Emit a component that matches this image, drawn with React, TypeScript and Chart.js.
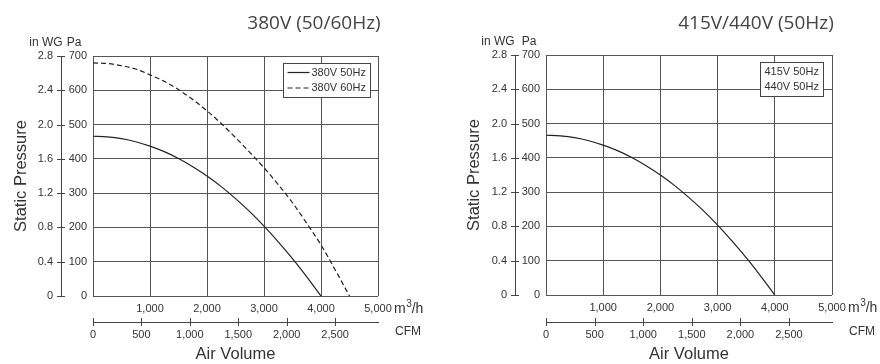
import React, { useEffect, useRef } from "react";
import { Chart, registerables } from "chart.js";
Chart.register(...registerables);

// ---------- data ----------
const leftTitle = "380V (50/60Hz)";
const rightTitle = "415V/440V (50Hz)";

const flowTicks = [0, 1000, 2000, 3000, 4000, 5000]; // m3/h
const paTicks = [0, 100, 200, 300, 400, 500, 600, 700]; // Pa
const inwgTicks = [0, 0.4, 0.8, 1.2, 1.6, 2.0, 2.4, 2.8]; // in WG
const cfmTicks = [0, 500, 1000, 1500, 2000, 2500]; // CFM

const flow50 = [0, 250, 500, 750, 1000, 1250, 1500, 1750, 2000, 2250, 2500, 2750, 3000, 3250, 3500, 3750, 4000];
const pa50 = [466, 464, 459, 450, 437, 421, 401, 377, 350, 319, 284, 246, 204, 158, 109, 56, 0];

const flow60 = [0, 250, 500, 750, 1000, 1250, 1500, 1750, 2000, 2250, 2500, 2750, 3000, 3250, 3500, 3750, 4000, 4250, 4500];
const pa60 = [680, 678, 672, 662, 645, 626, 602, 573, 540, 503, 462, 419, 374, 325, 272, 212, 149, 76, 0];

const flowR = [0, 250, 500, 750, 1000, 1250, 1500, 1750, 2000, 2250, 2500, 2750, 3000, 3250, 3500, 3750, 4000];
const paR = [466, 464, 459, 450, 437, 421, 401, 377, 350, 319, 284, 246, 204, 158, 109, 56, 0];

const leftLegend = ["380V 50Hz", "380V 60Hz"];
const rightLegend = ["415V 50Hz", "440V 50Hz"];

const M3H_PER_CFM = 1.699;

// ---------- styling ----------
const NARROW = '"Liberation Sans Narrow", "Arial Narrow", "Liberation Sans", Arial, sans-serif';
const SANS = '"Liberation Sans", Arial, sans-serif';
const TEXT = "#333";
const LINE = "#444";
const GRID = "#555";
const TICK_SIZE = 11;

type Series = { label: string; flow: number[]; pa: number[]; dash: number[] };
type Panel = {
  title: string;
  titleX: number;
  series: Series[];
  legend: string[];
  legendLines: boolean;
  padTop: number;
  padRight: number;
  inwgW: number;
  paW: number;
  xH: number;
  cfmH: number;
  yTitlePad: number;
  inwgLabelOff: number;
  paLabelOff: number;
  legendRightGap: number;
};

const leftPanel: Panel = {
  title: leftTitle,
  titleX: 314,
  series: [
    { label: leftLegend[0], flow: flow50, pa: pa50, dash: [] },
    { label: leftLegend[1], flow: flow60, pa: pa60, dash: [5, 3] },
  ],
  legend: leftLegend,
  legendLines: true,
  padTop: 56,
  padRight: 62,
  inwgW: 61,
  paW: 32,
  xH: 26,
  cfmH: 42,
  yTitlePad: 12,
  inwgLabelOff: 15,
  paLabelOff: 13,
  legendRightGap: 8,
};

const rightPanel: Panel = {
  title: rightTitle,
  titleX: 316,
  series: [{ label: rightLegend[0], flow: flowR, pa: paR, dash: [] }],
  legend: rightLegend,
  legendLines: false,
  padTop: 55,
  padRight: 48,
  inwgW: 75,
  paW: 31,
  xH: 27,
  cfmH: 42,
  yTitlePad: 25,
  inwgLabelOff: 17,
  paLabelOff: 14,
  legendRightGap: 9,
};

function fmt(v: number) {
  return Math.round(v).toLocaleString("en-US");
}

function makeExtras(p: Panel) {
  return {
    id: "extras",
    afterDraw(chart: any) {
      const ctx: CanvasRenderingContext2D = chart.ctx;
      const area = chart.chartArea;
      const inwg = chart.scales.inwg;
      const cfm = chart.scales.cfm;
      const xs = chart.scales.x;
      ctx.save();

      // title
      ctx.fillStyle = "#444";
      ctx.font = '19px "Open Sans", sans-serif';
      ctx.textAlign = "center";
      ctx.textBaseline = "middle";
      ctx.fillText(p.title, p.titleX, 24);

      // unit headers
      ctx.fillStyle = TEXT;
      ctx.font = "12px " + NARROW;
      const bx = inwg.right;
      ctx.fillText("in WG", bx - p.inwgLabelOff, area.top - 13);
      ctx.fillText("Pa", bx + p.paLabelOff, area.top - 13);

      // cross ticks on in WG axis
      ctx.strokeStyle = LINE;
      ctx.lineWidth = 1;
      ctx.beginPath();
      for (const t of inwg.ticks) {
        const y = Math.round(inwg.getPixelForValue(t.value)) + 0.5;
        ctx.moveTo(bx - 4, y);
        ctx.lineTo(bx + 4, y);
      }
      // cross ticks on CFM axis
      const by = cfm.top;
      for (const t of cfm.ticks) {
        const x = Math.round(cfm.getPixelForValue(t.value)) + 0.5;
        ctx.moveTo(x, by - 4);
        ctx.lineTo(x, by + 4);
      }
      ctx.stroke();

      // m3/h unit
      const ux = xs.getPixelForValue(5000) + 16;
      const uy = area.bottom + 13;
      ctx.textAlign = "left";
      ctx.font = "14px " + SANS;
      ctx.fillText("m", ux, uy);
      let w = ctx.measureText("m").width;
      ctx.font = "10px " + SANS;
      ctx.fillText("3", ux + w + 0.5, uy - 5);
      w += ctx.measureText("3").width + 0.5;
      ctx.font = "14px " + SANS;
      ctx.fillText("/h", ux + w, uy);

      // CFM unit
      ctx.font = "12px " + SANS;
      ctx.fillText("CFM", area.right + 17, by + 10);

      // legend
      ctx.font = TICK_SIZE + "px " + NARROW;
      let tw = 0;
      for (const s of p.legend) tw = Math.max(tw, ctx.measureText(s).width);
      const sample = p.legendLines ? 24 : 0;
      const boxW = Math.round(4 + sample + tw + 5);
      const boxH = 34;
      const bxr = area.right - p.legendRightGap;
      const bxl = Math.round(bxr - boxW) + 0.5;
      const bty = area.top + 7.5;
      ctx.fillStyle = "#fff";
      ctx.fillRect(bxl, bty, boxW, boxH);
      ctx.strokeStyle = LINE;
      ctx.setLineDash([]);
      ctx.strokeRect(bxl, bty, boxW, boxH);
      p.legend.forEach((s, i) => {
        const ry = bty + 9 + i * 15.5;
        if (p.legendLines) {
          const ds = p.series[i];
          ctx.strokeStyle = "#222";
          ctx.lineWidth = 1.2;
          ctx.setLineDash(ds.dash);
          ctx.beginPath();
          ctx.moveTo(bxl + 4, ry);
          ctx.lineTo(bxl + 4 + 22, ry);
          ctx.stroke();
          ctx.setLineDash([]);
        }
        ctx.fillStyle = TEXT;
        ctx.textAlign = "left";
        ctx.textBaseline = "middle";
        ctx.fillText(s, bxl + 4 + sample, ry);
      });

      ctx.restore();
    },
  };
}

function setTicks(values: number[]) {
  return (s: any) => {
    s.ticks = values.map((v) => ({ value: v }));
  };
}

function makeConfig(p: Panel): any {
  const tickFont = { family: NARROW, size: TICK_SIZE };
  return {
    type: "line",
    data: {
      datasets: p.series.map((s) => ({
        label: s.label,
        data: s.flow.map((f, i) => ({ x: f, y: s.pa[i] })),
        borderColor: "#222",
        borderWidth: 1.2,
        borderDash: s.dash,
        pointRadius: 0,
        cubicInterpolationMode: "monotone",
        fill: false,
      })),
    },
    options: {
      responsive: false,
      animation: false,
      events: [],
      layout: { padding: { left: 0, top: p.padTop, right: p.padRight, bottom: 0 } },
      plugins: { legend: { display: false }, tooltip: { enabled: false }, title: { display: false } },
      scales: {
        x: {
          type: "linear",
          position: "bottom",
          weight: 0,
          min: 0,
          max: 5000,
          afterBuildTicks: setTicks(flowTicks),
          ticks: {
            callback: (v: number) => (v === 0 ? "" : fmt(v)),
            color: TEXT,
            font: tickFont,
            padding: 6,
            maxRotation: 0,
            autoSkip: false,
          },
          grid: { color: GRID, lineWidth: 1, drawTicks: false },
          border: { display: false },
          afterFit: (s: any) => {
            s.height = p.xH;
          },
        },
        cfm: {
          type: "linear",
          position: "bottom",
          weight: 1,
          min: 0,
          max: 5000 / M3H_PER_CFM,
          afterBuildTicks: setTicks(cfmTicks),
          ticks: {
            callback: (v: number) => fmt(v),
            color: TEXT,
            font: tickFont,
            padding: 6,
            maxRotation: 0,
            autoSkip: false,
          },
          grid: { display: false, drawTicks: false },
          border: { display: true, color: LINE, width: 1 },
          title: {
            display: true,
            text: "Air Volume",
            color: TEXT,
            font: { family: SANS, size: 16.5 },
            padding: { top: 0, bottom: 0 },
          },
          afterFit: (s: any) => {
            s.height = p.cfmH;
          },
        },
        y: {
          type: "linear",
          position: "left",
          weight: 0,
          min: 0,
          max: 700,
          afterBuildTicks: setTicks(paTicks),
          ticks: {
            color: TEXT,
            font: tickFont,
            padding: 6,
            autoSkip: false,
          },
          grid: { color: GRID, lineWidth: 1, drawTicks: false },
          border: { display: false },
          afterFit: (s: any) => {
            s.width = p.paW;
          },
        },
        inwg: {
          type: "linear",
          position: "left",
          weight: 1,
          min: 0,
          max: 2.8,
          afterBuildTicks: setTicks(inwgTicks),
          ticks: {
            callback: (v: number) => (v === 0 ? "0" : v.toFixed(1)),
            color: TEXT,
            font: tickFont,
            padding: 8,
            autoSkip: false,
          },
          grid: { display: false, drawTicks: false },
          border: { display: true, color: LINE, width: 1 },
          title: {
            display: true,
            text: "Static Pressure",
            color: TEXT,
            font: { family: SANS, size: 16.5 },
            padding: { top: p.yTitlePad, bottom: 0 },
          },
          afterFit: (s: any) => {
            s.width = p.inwgW;
          },
        },
      },
    },
    plugins: [makeExtras(p)],
  };
}

export default function App() {
  const leftRef = useRef<HTMLCanvasElement>(null);
  const rightRef = useRef<HTMLCanvasElement>(null);
  useEffect(() => {
    const a = new Chart(leftRef.current as HTMLCanvasElement, makeConfig(leftPanel));
    const b = new Chart(rightRef.current as HTMLCanvasElement, makeConfig(rightPanel));
    return () => {
      a.destroy();
      b.destroy();
    };
  }, []);
  return (
    <div style={{ position: "fixed", left: 0, top: 0, width: 880, height: 364, background: "#fff" }}>
      <canvas ref={leftRef} width={440} height={364} style={{ position: "absolute", left: 0, top: 0 }} />
      <canvas ref={rightRef} width={440} height={364} style={{ position: "absolute", left: 440, top: 0 }} />
    </div>
  );
}
